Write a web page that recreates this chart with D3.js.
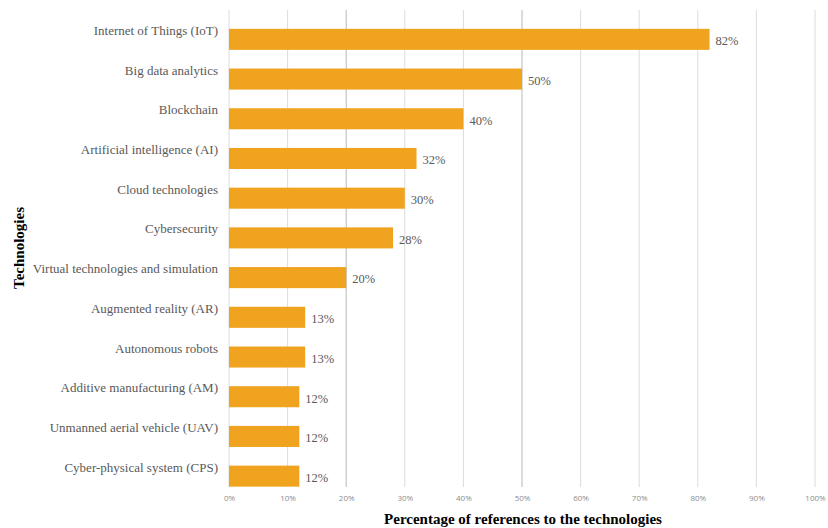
<!DOCTYPE html>
<html>
<head>
<meta charset="utf-8">
<script src="https://cdn.jsdelivr.net/npm/d3@7"></script>
<style>
  body { margin: 0; background: #fff; }
</style>
</head>
<body>
<svg width="828" height="528"></svg>
<script>
var technologies = [
  "Internet of Things (IoT)",
  "Big data analytics",
  "Blockchain",
  "Artificial intelligence (AI)",
  "Cloud technologies",
  "Cybersecurity",
  "Virtual technologies and simulation",
  "Augmented reality (AR)",
  "Autonomous robots",
  "Additive manufacturing (AM)",
  "Unmanned aerial vehicle (UAV)",
  "Cyber-physical system (CPS)"
];
var percents = [82, 50, 40, 32, 30, 28, 20, 13, 13, 12, 12, 12];
var xTicks = [0, 10, 20, 30, 40, 50, 60, 70, 80, 90, 100];

var serif = "'Liberation Serif', 'Times New Roman', serif";
var svg = d3.select("svg");

var x = d3.scaleLinear()
  .domain([0, 100])
  .range([229, 815]);

var y = d3.scaleBand()
  .domain(technologies)
  .range([19.5, 496])
  .paddingInner(0.47)
  .paddingOuter(0.235);

var gridTop = 10, gridBottom = 487;

// vertical gridlines
svg.append("g")
  .selectAll("line")
  .data(xTicks)
  .enter().append("line")
  .attr("x1", function(d) { return x(d); })
  .attr("x2", function(d) { return x(d); })
  .attr("y1", gridTop)
  .attr("y2", gridBottom)
  .attr("stroke", function(d) { return (d == 20 || d == 50) ? "#b8b8b8" : "#dcdcdc"; })
  .attr("stroke-width", 1);

// x axis tick labels
var xAxis = d3.axisBottom(x)
  .tickValues(xTicks)
  .tickSize(0)
  .tickPadding(0)
  .tickFormat(function(d) { return d + "%"; });

svg.append("g")
  .attr("transform", "translate(0," + 495 + ")")
  .call(xAxis)
  .call(function(g) {
    g.select(".domain").remove();
    g.selectAll("text")
      .attr("font-family", "'Open Sans', sans-serif")
      .attr("font-size", "8px")
      .attr("fill", "#8c8c8c");
  });

// bars
svg.append("g")
  .selectAll("rect")
  .data(percents)
  .enter().append("rect")
  .attr("x", x(0))
  .attr("y", function(d, i) { return y(technologies[i]); })
  .attr("width", function(d) { return x(d) - x(0); })
  .attr("height", y.bandwidth())
  .attr("fill", "#f0a31e");

// value labels
svg.append("g")
  .selectAll("text")
  .data(percents)
  .enter().append("text")
  .attr("font-family", serif)
  .attr("font-size", "12.5px")
  .attr("fill", "#595959")
  .attr("x", function(d) { return x(d) + 6; })
  .attr("y", function(d, i) { return y(technologies[i]) + y.bandwidth() / 2 + 1.5; })
  .attr("dy", "0.35em")
  .text(function(d) { return d + "%"; });

// category labels (sit a bit above each bar centre)
svg.append("g")
  .selectAll("text")
  .data(technologies)
  .enter().append("text")
  .attr("font-family", serif)
  .attr("font-size", "13px")
  .attr("fill", "#595959")
  .attr("x", 218)
  .attr("y", function(d) { return y(d) + y.bandwidth() / 2 - 9; })
  .attr("dy", "0.35em")
  .attr("text-anchor", "end")
  .text(function(d) { return d; });

// axis titles
svg.append("text")
  .attr("font-family", serif)
  .attr("font-weight", "bold")
  .attr("font-size", "15px")
  .attr("x", 523)
  .attr("y", 524)
  .attr("text-anchor", "middle")
  .text("Percentage of references to the technologies");

svg.append("text")
  .attr("font-family", serif)
  .attr("font-weight", "bold")
  .attr("font-size", "15px")
  .attr("transform", "translate(24,248) rotate(-90)")
  .attr("text-anchor", "middle")
  .text("Technologies");
</script>
</body>
</html>
